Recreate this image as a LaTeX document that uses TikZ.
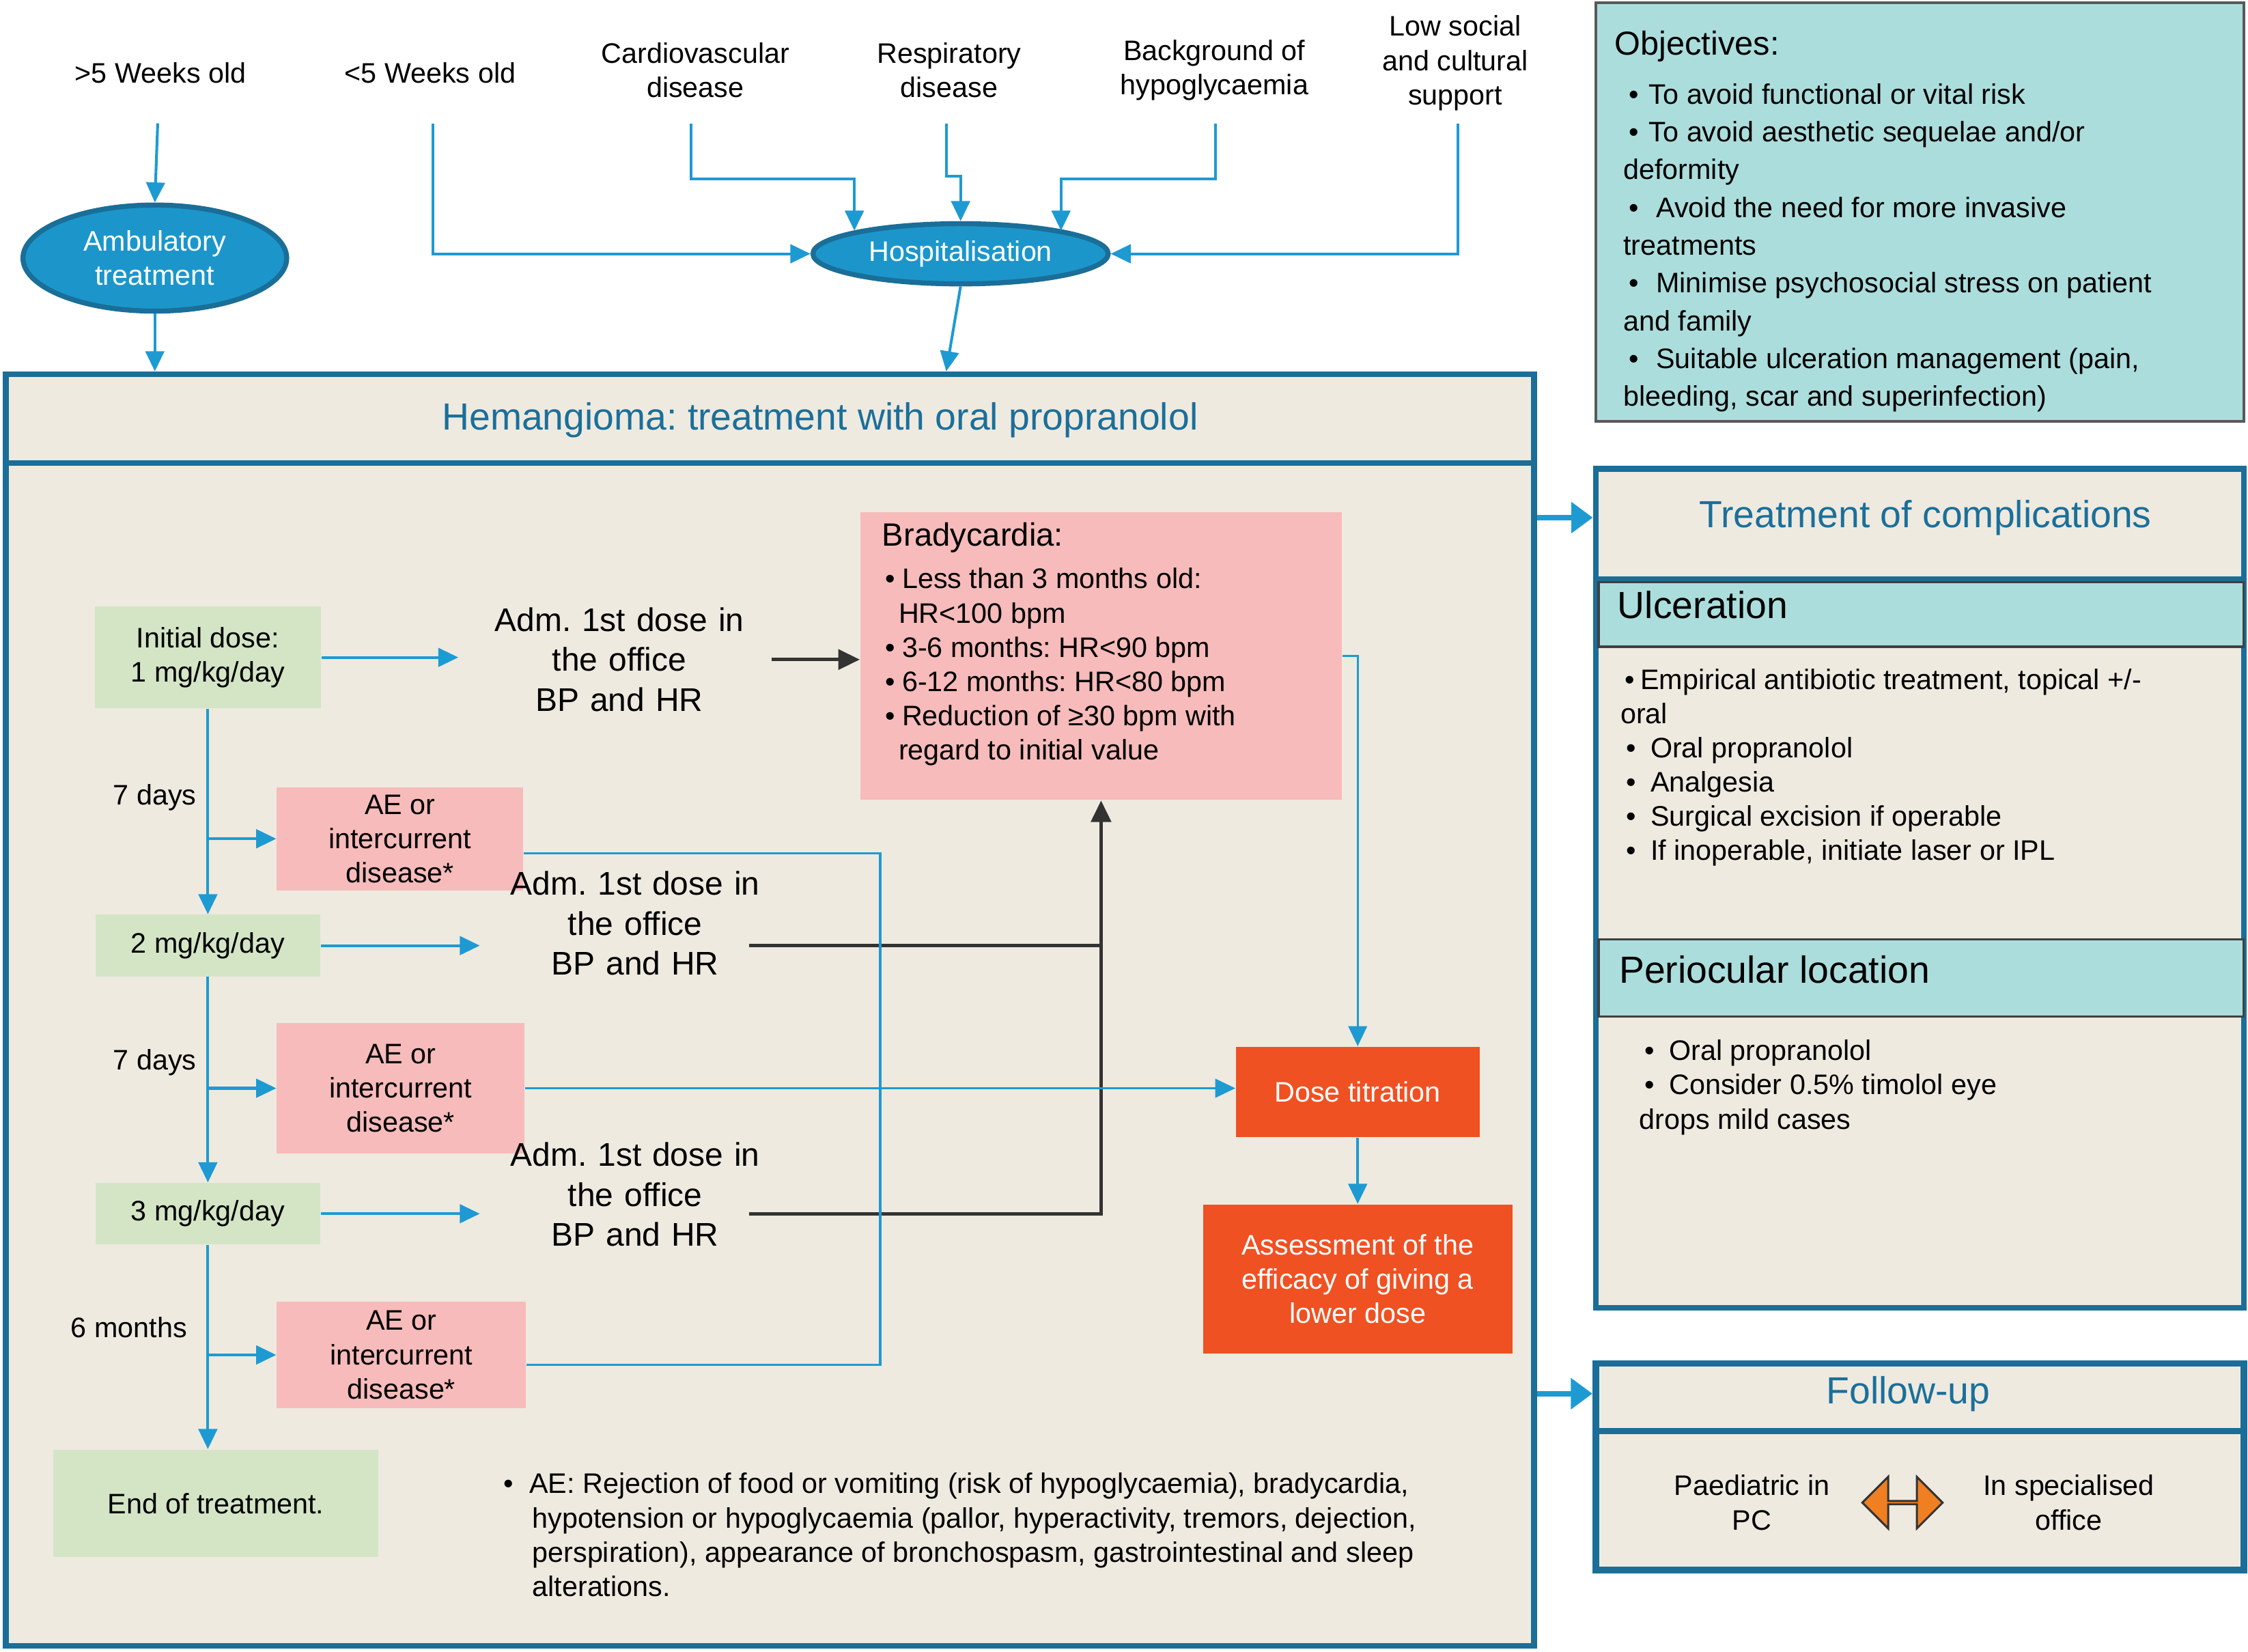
\documentclass[tikz,border=0pt]{standalone}
\usepackage{fontspec}
\setmainfont{Liberation Sans}
\usetikzlibrary{arrows.meta,shapes.geometric,shapes.arrows,fit}
\definecolor{lblue}{HTML}{1E9AD3}
\definecolor{dblue}{HTML}{1A6E98}
\definecolor{beige}{HTML}{EEEAE0}
\definecolor{lgreen}{HTML}{D4E5C5}
\definecolor{lpink}{HTML}{F6BBBA}
\definecolor{ored}{HTML}{EF5123}
\definecolor{myteal}{HTML}{ACDDDD}
\definecolor{oarrow}{HTML}{F07F22}
\definecolor{tblue}{HTML}{1B6F9A}
\definecolor{ellfill}{HTML}{1C96CA}
\newcommand\fbase{\fontsize{11.2}{13.6}\selectfont}
\newcommand\fadm{\fontsize{13}{15.9}\selectfont}
\newcommand\fhead{\fontsize{15}{18}\selectfont}
\newcommand\fobj{\fontsize{11.2}{15}\selectfont}
\frenchspacing
\begin{document}
\frenchspacing
\begin{tikzpicture}[x=0.02cm, y=-0.02cm,
  lbl/.style={align=center, font=\fbase, inner sep=0pt},
  arr/.style={draw=lblue, line width=1.1pt, -{Triangle[length=0.28cm,width=0.26cm]}},
  thinarr/.style={draw=lblue, line width=0.9pt, -{Triangle[length=0.28cm,width=0.26cm]}},
  thk/.style={draw=lblue, line width=2.2pt, -{Triangle[length=0.3cm,width=0.42cm]}},
  bl/.style={draw=lblue, line width=0.9pt},
  blk/.style={draw=black!80, line width=1.3pt, -{Triangle[length=0.3cm,width=0.28cm]}},
  blkl/.style={draw=black!80, line width=1.3pt},
  ell/.style={ellipse, fill=ellfill, draw=dblue, line width=2pt, text=white, inner sep=0pt, align=center, font=\fbase},
  gbox/.style={rectangle, fill=lgreen, inner sep=0pt, align=center, font=\fbase},
  pbox/.style={rectangle, fill=lpink, inner sep=0pt, align=center, font=\fbase},
  obox/.style={rectangle, fill=ored, text=white, inner sep=0pt, align=center, font=\fbase},
  adm/.style={align=center, font=\fadm, inner sep=0pt},
  frame/.style={inner sep=0pt, draw=dblue, line width=2.3pt, fill=beige},
  band/.style={inner sep=0pt, draw=black!75, line width=0.9pt, fill=myteal},
  txt/.style={anchor=north west, align=left, inner sep=0pt, font=\fbase}]

\useasboundingbox (0,0) rectangle (1568,1152);
\fill[white] (0,0) rectangle (1568,1152);

% ---------- top labels ----------
\node[lbl] (gt5) at (112,51) {>5 Weeks old};
\node[lbl] (lt5) at (300,51) {<5 Weeks old};
\node[lbl] (card) at (485,49) {Cardiovascular\\disease};
\node[lbl] (resp) at (662,49) {Respiratory\\disease};
\node[lbl] (back) at (847,49) {Background of\\hypoglycaemia};
\node[lbl] (low) at (1015,44) {Low social\\and cultural\\support};
\coordinate (gt5S) at (110,86);
\coordinate (lt5S) at (302,86);
\coordinate (cardS) at (482,86);
\coordinate (respS) at (660,86);
\coordinate (backS) at (848,86);
\coordinate (lowS) at (1017,86);

% ---------- main box ----------
\node[frame, fit={(4,261) (1070,1148)}] (main) {};
\coordinate (msep) at (0,323);
\draw[dblue, line width=2.3pt] (main.west |- msep) -- (main.east |- msep);
\node[font=\fhead, text=tblue] (mtitle) at (572,293) {Hemangioma: treatment with oral propranolol};

% ---------- ellipses ----------
\node[ell, minimum width=3.68cm, minimum height=1.48cm] (amb) at (108,180) {Ambulatory\\treatment};
\node[ell, minimum width=4.12cm, minimum height=0.84cm] (hosp) at (670,177) {Hospitalisation};

\draw[arr] (gt5S) -- (amb.north);
\draw[arr] (amb.south) -- (amb.south |- main.north);
\draw[arr] (lt5S) |- (hosp.west);
\draw[arr] (cardS) -- ++(0,39) -| (hosp.north west);
\draw[arr] (respS) -- ++(0,37) -| (hosp.north);
\draw[arr] (backS) -- ++(0,39) -| ([xshift=-0.08cm]hosp.north east);
\draw[arr] (lowS) |- (hosp.east);
\draw[arr] (hosp.south) -- ([xshift=-0.2cm]hosp.south |- main.north);

% ---------- left column ----------
\node[gbox, minimum width=3.16cm, minimum height=1.42cm] (init) at (145,458.5) {Initial dose:\\1 mg/kg/day};
\node[gbox, minimum width=3.14cm, minimum height=0.86cm] (dose2) at (145,659.5) {2 mg/kg/day};
\node[gbox, minimum width=3.14cm, minimum height=0.86cm] (dose3) at (145,846.5) {3 mg/kg/day};
\node[gbox, minimum width=4.54cm, minimum height=1.5cm] (endt) at (150.5,1048.5) {End of treatment.};

\node[pbox, minimum width=3.44cm, minimum height=1.44cm] (ae1) at (279,585) {AE or\\intercurrent\\disease*};
\node[pbox, minimum width=3.46cm, minimum height=1.82cm] (ae2) at (279.5,759) {AE or\\intercurrent\\disease*};
\node[pbox, minimum width=3.48cm, minimum height=1.48cm] (ae3) at (280,945) {AE or\\intercurrent\\disease*};

\node[lbl] (d1) at (108,556) {7 days};
\node[lbl] (d2) at (108,741) {7 days};
\node[lbl] (d3) at (90,926) {6 months};

\draw[arr] (init.south) -- (dose2.north);
\draw[arr] (dose2.south) -- (dose3.north);
\draw[arr] (dose3.south) -- (dose3.south |- endt.north);
\draw[arr] (ae1.west -| init.south) -- (ae1.west);
\draw[arr] (ae2.west -| init.south) -- (ae2.west);
\draw[arr] (ae3.west -| init.south) -- (ae3.west);

% ---------- administration texts ----------
\node[adm, text width=4.48cm] (adm1) at (432,460) {Adm. 1st dose in\\the office\\BP and HR};
\node[adm, text width=4.32cm] (adm2) at (443,644) {Adm. 1st dose in\\the office\\BP and HR};
\node[adm, text width=4.32cm] (adm3) at (443,833) {Adm. 1st dose in\\the office\\BP and HR};

\draw[arr] (init.east) -- (init.east -| adm1.west);
\draw[arr] (dose2.east) -- (dose2.east -| adm2.west);
\draw[arr] (dose3.east) -- (dose3.east -| adm3.west);

% ---------- bradycardia ----------
\node[pbox, minimum width=6.72cm, minimum height=4.02cm] (brady) at (768,457.5) {};
\node[txt] (bradytxt) at (615,364) {{\fontsize{12.8}{13.6}\selectfont Bradycardia:}\\[3.4pt]
\hspace*{0.04cm}•\hspace{0.1cm}Less than 3 months old:\\
\hspace*{0.23cm}HR<100 bpm\\
\hspace*{0.04cm}•\hspace{0.1cm}3-6 months: HR<90 bpm\\
\hspace*{0.04cm}•\hspace{0.1cm}6-12 months: HR<80 bpm\\
\hspace*{0.04cm}•\hspace{0.1cm}Reduction of ≥30 bpm with\\
\hspace*{0.23cm}regard to initial value};

\draw[blk] ([xshift=-0.12cm]adm1.east) -- (adm1.east -| brady.west);
\draw[blk] ([xshift=-0.58cm]adm2.east |- dose2.east) -| (brady.south);
\draw[blkl] ([xshift=-0.58cm]adm3.east |- dose3.east) -| (brady.south |- dose2.east);

% ---------- titration ----------
\node[obox, minimum width=3.4cm, minimum height=1.26cm] (titr) at (947,761.5) {Dose titration};
\node[obox, minimum width=4.32cm, minimum height=2.08cm] (assess) at (947,892) {Assessment of the\\efficacy of giving a\\lower dose};

\draw[thinarr] (brady.east) -| (titr.north);
\draw[arr] (titr.south) -- (assess.north);
\coordinate (loopx) at (614,0);
\draw[bl] ([yshift=-0.2cm]ae1.east) -- ([yshift=-0.2cm]ae1.east -| loopx) -- ([yshift=-0.14cm]ae3.east -| loopx) -- ([yshift=-0.14cm]ae3.east);
\draw[thinarr] (ae2.east) -- (ae2.east -| titr.west);

% ---------- AE note ----------
\node[txt] (note) at (351,1027) {•\hspace{0.22cm}AE: Rejection of food or vomiting (risk of hypoglycaemia), bradycardia,\\
\hspace*{0.4cm}hypotension or hypoglycaemia (pallor, hyperactivity, tremors, dejection,\\
\hspace*{0.4cm}perspiration), appearance of bronchospasm, gastrointestinal and sleep\\
\hspace*{0.4cm}alterations.};

% ---------- objectives ----------
\node[inner sep=0pt, draw=black!65, line width=1.2pt, fill=myteal, fit={(1113,2) (1565,294)}] (obj) {};
\node[txt, font=\fobj] (objtxt) at (1126,21) {{\fontsize{13.2}{15}\selectfont Objectives:}\\[4.5pt]
\hspace*{0.2cm}•\hspace{0.14cm}To avoid functional or vital risk\\
\hspace*{0.2cm}•\hspace{0.14cm}To avoid aesthetic sequelae and/or\\
\hspace*{0.12cm}deformity\\
\hspace*{0.2cm}•\hspace{0.24cm}Avoid the need for more invasive\\
\hspace*{0.12cm}treatments\\
\hspace*{0.2cm}•\hspace{0.24cm}Minimise psychosocial stress on patient\\
\hspace*{0.12cm}and family\\
\hspace*{0.2cm}•\hspace{0.24cm}Suitable ulceration management (pain,\\
\hspace*{0.12cm}bleeding, scar and superinfection)};

% ---------- complications ----------
\node[frame, fit={(1113,327) (1565,912)}] (compl) {};
\coordinate (csep) at (0,404);
\draw[dblue, line width=2.3pt] (compl.west |- csep) -- (compl.east |- csep);
\node[font=\fhead, text=tblue] (ctitle) at (1343,361) {Treatment of complications};
\node[band, fit={(1115,406) (1565,451)}] (ulc) {};
\node[font=\fhead, anchor=west, inner sep=0pt] (ulct) at (1128,422) {Ulceration};
\node[txt] (ulctxt) at (1130,466) {\hspace*{0.06cm}•\hspace{0.08cm}Empirical antibiotic treatment, topical +/-\\
oral\\
\hspace*{0.08cm}•\hspace{0.2cm}Oral propranolol\\
\hspace*{0.08cm}•\hspace{0.2cm}Analgesia\\
\hspace*{0.08cm}•\hspace{0.2cm}Surgical excision if operable\\
\hspace*{0.08cm}•\hspace{0.2cm}If inoperable, initiate laser or IPL};
\node[band, fit={(1115,655) (1565,709)}] (peri) {};
\node[font=\fhead, anchor=west, inner sep=0pt] (perit) at (1129,676) {Periocular location};
\node[txt] (peritxt) at (1143,725) {\hspace*{0.08cm}•\hspace{0.2cm}Oral propranolol\\
\hspace*{0.08cm}•\hspace{0.2cm}Consider 0.5\% timolol eye\\
drops mild cases};

% ---------- follow-up ----------
\node[frame, line width=2.6pt, fit={(1113,951) (1565,1095)}] (fu) {};
\coordinate (fsep) at (0,998);
\draw[dblue, line width=2.6pt] (fu.west |- fsep) -- (fu.east |- fsep);
\node[font=\fhead, text=tblue] (futitle) at (1331,972) {Follow-up};
\node[lbl] (paed) at (1222,1048) {Paediatric in\\PC};
\node[lbl] (spec) at (1443,1048) {In specialised\\office};
\node[double arrow, draw=black!80, fill=oarrow, line width=0.8pt, inner sep=0pt,
      minimum width=0.72cm, minimum height=1.12cm, double arrow head extend=0.2cm] (dbl) at (1327,1048) {};

% ---------- links to right boxes ----------
\draw[thk] (ctitle.west -| main.east) -- (ctitle.west -| compl.west);
\draw[thk] (futitle.west -| main.east) -- (futitle.west -| fu.west);
\end{tikzpicture}
\end{document}
